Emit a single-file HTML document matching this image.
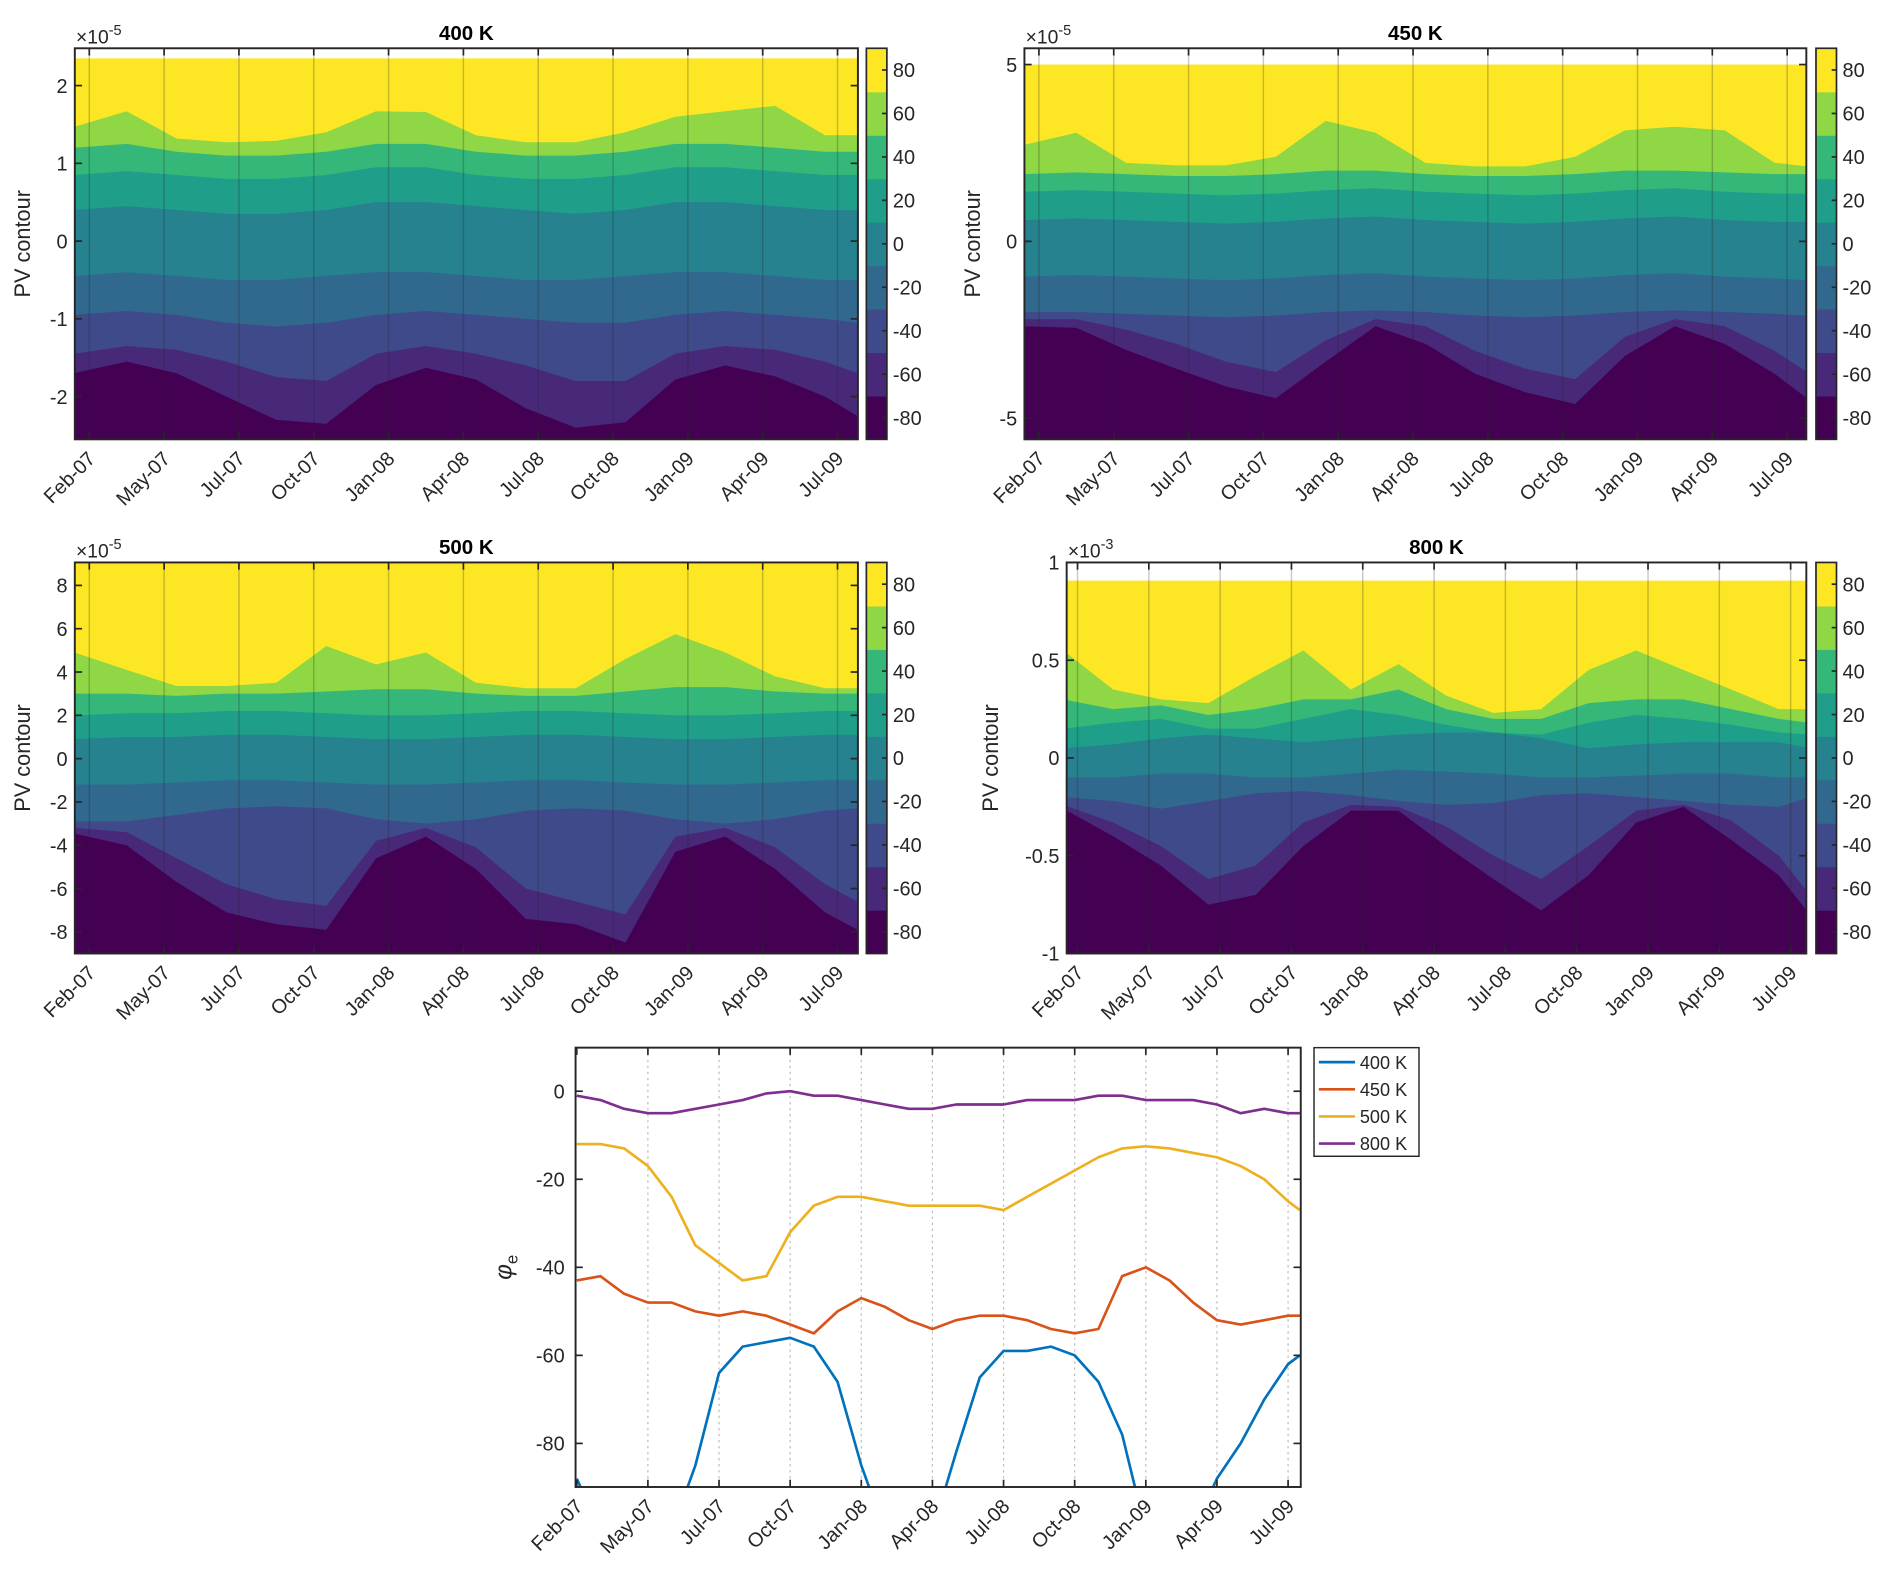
<!DOCTYPE html>
<html><head><meta charset="utf-8">
<style>
html,body{margin:0;padding:0;background:#fff;}
svg{display:block;font-family:"Liberation Sans",sans-serif;}
</style></head>
<body>
<svg id="fig" xmlns="http://www.w3.org/2000/svg" width="1892" height="1592" viewBox="0 0 1568 1319" preserveAspectRatio="none">
<rect x="0" y="0" width="1568" height="1319" fill="#fff"/>
</svg>
<script>
// ---------- DATA ----------
const T = [-0.6,1.5,3.5,5.5,7.5,9.5,11.5,13.5,15.5,17.5,19.5,21.5,23.5,25.5,27.5,29.5,30.8];
const xTickLabels = ['Feb-07','May-07','Jul-07','Oct-07','Jan-08','Apr-08','Jul-08','Oct-08','Jan-09','Apr-09','Jul-09'];
const xTickMonths = [0,3,6,9,12,15,18,21,24,27,30];
const cbTicks = [-80,-60,-40,-20,0,20,40,60,80];
const levels = [-90,-70,-50,-30,-10,10,30,50,70,90];

// 400 K boundaries (levels -70..70)
const p400_m70 = [-1.7,-1.55,-1.7,-2.0,-2.3,-2.35,-1.85,-1.63,-1.78,-2.15,-2.4,-2.33,-1.78,-1.6,-1.74,-2.0,-2.25];
const p400_m50 = [-1.45,-1.35,-1.4,-1.55,-1.75,-1.8,-1.45,-1.35,-1.45,-1.6,-1.8,-1.8,-1.45,-1.35,-1.4,-1.55,-1.7];
const p400_m30 = [-0.95,-0.9,-0.95,-1.05,-1.1,-1.05,-0.95,-0.9,-0.95,-1.0,-1.05,-1.05,-0.95,-0.9,-0.95,-1.0,-1.05];
const p400_m10 = [-0.45,-0.4,-0.45,-0.5,-0.5,-0.45,-0.4,-0.4,-0.45,-0.5,-0.5,-0.45,-0.4,-0.4,-0.45,-0.5,-0.5];
const p400_p10 = [0.4,0.45,0.4,0.35,0.35,0.4,0.5,0.5,0.45,0.4,0.35,0.4,0.5,0.5,0.45,0.4,0.4];
const p400_p30 = [0.85,0.9,0.85,0.8,0.8,0.85,0.95,0.95,0.85,0.8,0.8,0.85,0.95,0.95,0.9,0.85,0.85];
const p400_p50 = [1.2,1.25,1.15,1.1,1.1,1.15,1.25,1.25,1.15,1.1,1.1,1.15,1.25,1.25,1.2,1.15,1.15];
const p400_p70 = [1.47,1.67,1.32,1.27,1.29,1.4,1.67,1.66,1.36,1.27,1.27,1.4,1.6,1.67,1.74,1.36,1.36];

// 450 K
const p450_m70 = [-2.4,-2.45,-3.07,-3.6,-4.1,-4.44,-3.4,-2.4,-2.9,-3.75,-4.27,-4.6,-3.24,-2.4,-2.9,-3.75,-4.44];
const p450_m50 = [-2.2,-2.2,-2.5,-2.9,-3.4,-3.7,-2.8,-2.2,-2.4,-3.1,-3.6,-3.9,-2.7,-2.2,-2.4,-3.1,-3.7];
const p450_m30 = [-2.0,-2.0,-2.05,-2.1,-2.15,-2.1,-2.0,-1.95,-2.0,-2.1,-2.15,-2.1,-2.0,-1.95,-2.0,-2.05,-2.1];
const p450_m10 = [-1.0,-0.95,-1.0,-1.05,-1.1,-1.05,-0.95,-0.9,-1.0,-1.05,-1.1,-1.05,-0.95,-0.9,-1.0,-1.05,-1.1];
const p450_p10 = [0.6,0.65,0.6,0.55,0.5,0.55,0.65,0.7,0.6,0.55,0.5,0.55,0.65,0.7,0.6,0.55,0.55];
const p450_p30 = [1.4,1.45,1.4,1.35,1.3,1.35,1.45,1.5,1.4,1.35,1.3,1.35,1.45,1.5,1.4,1.35,1.35];
const p450_p50 = [1.9,1.95,1.9,1.85,1.85,1.9,2.0,2.0,1.9,1.85,1.85,1.9,2.0,2.0,1.95,1.9,1.9];
const p450_p70 = [2.73,3.07,2.22,2.15,2.15,2.39,3.41,3.07,2.22,2.12,2.12,2.39,3.14,3.24,3.14,2.22,2.12];

// 500 K
const p500_m70 = [-3.46,-4.0,-5.7,-7.1,-7.65,-7.9,-4.6,-3.6,-5.1,-7.4,-7.65,-8.5,-4.3,-3.6,-5.1,-7.1,-7.9];
const p500_m50 = [-3.2,-3.4,-4.6,-5.8,-6.5,-6.8,-3.8,-3.2,-4.1,-6.0,-6.6,-7.2,-3.6,-3.2,-4.1,-5.8,-6.6];
const p500_m30 = [-2.9,-2.9,-2.6,-2.3,-2.2,-2.3,-2.8,-3.0,-2.8,-2.4,-2.3,-2.4,-2.8,-3.0,-2.8,-2.4,-2.3];
const p500_m10 = [-1.2,-1.2,-1.1,-1.0,-1.0,-1.1,-1.2,-1.2,-1.1,-1.0,-1.0,-1.1,-1.2,-1.2,-1.1,-1.0,-1.0];
const p500_p10 = [0.9,1.0,1.0,1.1,1.1,1.0,0.9,0.9,1.0,1.1,1.1,1.0,0.9,0.9,1.0,1.1,1.1];
const p500_p30 = [2.0,2.1,2.1,2.2,2.2,2.1,2.0,2.0,2.1,2.2,2.2,2.1,2.0,2.0,2.1,2.2,2.2];
const p500_p50 = [3.0,3.0,2.9,3.0,3.0,3.1,3.2,3.2,3.0,2.9,2.9,3.1,3.3,3.3,3.1,3.0,3.0];
const p500_p70 = [4.9,4.1,3.35,3.35,3.5,5.2,4.35,4.9,3.5,3.25,3.25,4.6,5.75,4.9,3.8,3.25,3.25];

// 800 K
const p800_m70 = [-0.26,-0.4,-0.55,-0.75,-0.7,-0.45,-0.27,-0.27,-0.45,-0.62,-0.78,-0.6,-0.33,-0.25,-0.42,-0.6,-0.8];
const p800_m50 = [-0.24,-0.33,-0.45,-0.62,-0.55,-0.33,-0.24,-0.25,-0.35,-0.5,-0.62,-0.45,-0.27,-0.24,-0.32,-0.5,-0.7];
const p800_m30 = [-0.2,-0.22,-0.26,-0.22,-0.18,-0.17,-0.19,-0.22,-0.24,-0.23,-0.19,-0.18,-0.2,-0.22,-0.24,-0.25,-0.2];
const p800_m10 = [-0.1,-0.1,-0.08,-0.08,-0.1,-0.1,-0.08,-0.06,-0.07,-0.08,-0.1,-0.1,-0.09,-0.08,-0.08,-0.1,-0.1];
const p800_p10 = [0.05,0.07,0.1,0.12,0.1,0.08,0.1,0.12,0.13,0.13,0.1,0.05,0.07,0.08,0.08,0.08,0.05];
const p800_p30 = [0.15,0.18,0.2,0.15,0.15,0.2,0.25,0.22,0.17,0.13,0.12,0.18,0.22,0.2,0.17,0.13,0.12];
const p800_p50 = [0.3,0.25,0.27,0.22,0.25,0.3,0.3,0.35,0.25,0.2,0.2,0.28,0.3,0.3,0.25,0.2,0.18];
const p800_p70 = [0.55,0.35,0.3,0.28,0.42,0.55,0.35,0.48,0.32,0.23,0.25,0.45,0.55,0.45,0.35,0.25,0.25];

// line chart (phi_e) monthly
const TL = [0,1,2,3,4,5,6,7,8,9,10,11,12,13,14,15,16,17,18,19,20,21,22,23,24,25,26,27,28,29,30,30.5];
const phi400 = [-88,-100,-100,-100,-100,-85,-64,-58,-57,-56,-58,-66,-85,-100,-100,-100,-82,-65,-59,-59,-58,-60,-66,-78,-100,-100,-100,-88,-80,-70,-62,-60];
const phi450 = [-43,-42,-46,-48,-48,-50,-51,-50,-51,-53,-55,-50,-47,-49,-52,-54,-52,-51,-51,-52,-54,-55,-54,-42,-40,-43,-48,-52,-53,-52,-51,-51];
const phi500 = [-12,-12,-13,-17,-24,-35,-39,-43,-42,-32,-26,-24,-24,-25,-26,-26,-26,-26,-27,-24,-21,-18,-15,-13,-12.5,-13,-14,-15,-17,-20,-25,-27];
const phi800 = [-1,-2,-4,-5,-5,-4,-3,-2,-0.5,0,-1,-1,-2,-3,-4,-4,-3,-3,-3,-2,-2,-2,-1,-1,-2,-2,-2,-3,-5,-4,-5,-5];
const yTicksLine = [-80,-60,-40,-20,0];
const seriesNames = ['400 K','450 K','500 K','800 K'];

// ---------- STYLE / LAYOUT ----------
const COLORS = ['#440154','#482878','#3e4a89','#31688e','#26828e','#1f9e89','#35b779','#8fd744','#fde725'];
const NS = 'http://www.w3.org/2000/svg';
const svg = document.getElementById('fig');
function mk(tag, attrs, parent){
  const e = document.createElementNS(NS, tag);
  for (const k in attrs) e.setAttribute(k, attrs[k]);
  (parent||svg).appendChild(e);
  return e;
}
const FS = 16.5;
const panels = [
  {title:'400 K', x0:62, x1:711, y0:40, y1:364, ymin:-2.55, ymax:2.48, top:2.35, yt:[-2,-1,0,1,2], tick0:74, mpx:20.67, exp:'-5', cbx:718, ylx:25,
   B:[p400_m70,p400_m50,p400_m30,p400_m10,p400_p10,p400_p30,p400_p50,p400_p70]},
  {title:'450 K', x0:849, x1:1497, y0:40, y1:364, ymin:-5.6, ymax:5.46, top:5.0, yt:[-5,0,5], tick0:861, mpx:20.67, exp:'-5', cbx:1505, ylx:812,
   B:[p450_m70,p450_m50,p450_m30,p450_m10,p450_p10,p450_p30,p450_p50,p450_p70]},
  {title:'500 K', x0:62, x1:711, y0:466, y1:790, ymin:-9.0, ymax:9.06, top:9.06, yt:[-8,-6,-4,-2,0,2,4,6,8], tick0:74, mpx:20.67, exp:'-5', cbx:718, ylx:25,
   B:[p500_m70,p500_m50,p500_m30,p500_m10,p500_p10,p500_p30,p500_p50,p500_p70]},
  {title:'800 K', x0:884, x1:1497, y0:466, y1:790, ymin:-1, ymax:1, top:0.907, yt:[-1,-0.5,0,0.5,1], tick0:893, mpx:19.7, exp:'-3', cbx:1505, ylx:827,
   B:[p800_m70,p800_m50,p800_m30,p800_m10,p800_p10,p800_p30,p800_p50,p800_p70]}
];

panels.forEach((P, pi) => {
  const g = mk('g', {});
  
  
  const xs = t => P.tick0 + t*P.mpx;
  const ys = v => P.y1 - (v - P.ymin)/(P.ymax - P.ymin)*(P.y1 - P.y0);
  const cid = 'clip' + pi;
  const cp = mk('clipPath', {id:cid}, g);
  mk('rect', {x:P.x0, y:P.y0, width:P.x1-P.x0, height:P.y1-P.y0}, cp);
  const plot = mk('g', {'clip-path':'url(#'+cid+')'}, g);
  
  
  const yr = mk('rect', {x:P.x0, y:ys(P.top), width:P.x1-P.x0, height:P.y1-ys(P.top), fill:COLORS[8]}, plot);
  
  
  for (let k = 7; k >= 0; k--) {
    const arr = P.B[k];
    let d = 'M' + xs(T[0]).toFixed(1) + ',' + P.y1;
    for (let i = 0; i < T.length; i++) d += ' L' + xs(T[i]).toFixed(1) + ',' + ys(arr[i]).toFixed(1);
    d += ' L' + xs(T[T.length-1]).toFixed(1) + ',' + P.y1 + ' Z';
    const p = mk('path', {d:d, fill:COLORS[k]}, plot);
    
    
  }
  xTickMonths.forEach(m => {
    const x = xs(m);
    if (x > P.x0 + 1 && x < P.x1 - 1) {
      const l = mk('line', {x1:x, x2:x, y1:P.y0, y2:P.y1, stroke:'#222', 'stroke-opacity':0.25, 'stroke-width':1.2}, g);
      
      
    }
  });
  const box = mk('rect', {x:P.x0, y:P.y0, width:P.x1-P.x0, height:P.y1-P.y0, fill:'none', stroke:'#262626', 'stroke-width':1.6}, g);
  
  
  xTickMonths.forEach((m, i) => {
    const x = xs(m);
    mk('line', {x1:x, x2:x, y1:P.y1, y2:P.y1-6, stroke:'#262626', 'stroke-width':1.4}, g);
    mk('line', {x1:x, x2:x, y1:P.y0, y2:P.y0+6, stroke:'#262626', 'stroke-width':1.4}, g);
    const lx = x+6, ly = P.y1+17;
    const t = mk('text', {x:lx, y:ly, 'font-size':FS, 'text-anchor':'end', fill:'#262626', transform:'rotate(-45 '+lx+' '+ly+')'}, g);
    t.textContent = xTickLabels[i];
    
    
  });
  P.yt.forEach(v => {
    const y = ys(v);
    mk('line', {x1:P.x0, x2:P.x0+6, y1:y, y2:y, stroke:'#262626', 'stroke-width':1.4}, g);
    mk('line', {x1:P.x1, x2:P.x1-6, y1:y, y2:y, stroke:'#262626', 'stroke-width':1.4}, g);
    const t = mk('text', {x:P.x0-6, y:y+6, 'font-size':FS, 'text-anchor':'end', fill:'#262626'}, g);
    t.textContent = String(v);
    
    
  });
  const ex = mk('text', {x:P.x0+1, y:P.y0-4, 'font-size':16, fill:'#262626'}, g);
  ex.textContent = '×10';
  
  
  const ts = mk('tspan', {dy:-7, 'font-size':12}, ex);
  ts.textContent = P.exp;
  const ti = mk('text', {x:(P.x0+P.x1)/2, y:P.y0-7, 'font-size':17, 'font-weight':'bold', 'text-anchor':'middle', fill:'#000'}, g);
  ti.textContent = P.title;
  
  
  const yl = mk('text', {x:P.ylx, y:(P.y0+P.y1)/2, 'font-size':18, 'text-anchor':'middle', fill:'#262626', transform:'rotate(-90 '+P.ylx+' '+((P.y0+P.y1)/2)+')'}, g);
  yl.textContent = 'PV contour';
  
  
  const cb = mk('g', {}, g);
  
  
  const cbw = 17, bh = (P.y1-P.y0)/9;
  for (let k = 0; k < 9; k++) {
    mk('rect', {x:P.cbx, y:P.y1-(k+1)*bh, width:cbw, height:bh+0.5, fill:COLORS[k]}, cb);
  }
  mk('rect', {x:P.cbx, y:P.y0, width:cbw, height:P.y1-P.y0, fill:'none', stroke:'#262626', 'stroke-width':1.4}, cb);
  cbTicks.forEach(v => {
    const y = P.y1 - (v+90)/180*(P.y1-P.y0);
    mk('line', {x1:P.cbx+cbw-4, x2:P.cbx+cbw, y1:y, y2:y, stroke:'#262626', 'stroke-width':1.4}, cb);
    const t = mk('text', {x:P.cbx+cbw+5, y:y+6, 'font-size':FS, fill:'#262626'}, cb);
    t.textContent = String(v);
    
    
  });
});

// ---------- LINE CHART ----------
(function(){
  const L = {x0:477, x1:1078, y0:868, y1:1232, ymin:-89.9, ymax:9.9, tick0:478, mpx:19.65};
  const xs = t => L.tick0 + t*L.mpx;
  const ys = v => L.y1 - (v - L.ymin)/(L.ymax - L.ymin)*(L.y1 - L.y0);
  const g = mk('g', {});
  
  
  const cp = mk('clipPath', {id:'clipL'}, g);
  mk('rect', {x:L.x0, y:L.y0, width:L.x1-L.x0, height:L.y1-L.y0}, cp);
  xTickMonths.forEach(m => {
    const x = xs(m);
    if (x > L.x0 + 2) {
      const l = mk('line', {x1:x, x2:x, y1:L.y0, y2:L.y1, stroke:'#bdbdbd', 'stroke-dasharray':'2,3', 'stroke-width':1}, g);
      
      
    }
  });
  const series = [phi400, phi450, phi500, phi800];
  const cols = ['#0072bd','#d95319','#edb120','#7e2f8e'];
  const pg = mk('g', {'clip-path':'url(#clipL)'}, g);
  series.forEach((s, si) => {
    let d = '';
    for (let i = 0; i < TL.length; i++) d += (i ? ' L' : 'M') + xs(TL[i]).toFixed(1) + ',' + ys(s[i]).toFixed(1);
    const p = mk('path', {d:d, fill:'none', stroke:cols[si], 'stroke-width':2.2, 'stroke-linejoin':'round'}, pg);
    
    
  });
  const box = mk('rect', {x:L.x0, y:L.y0, width:L.x1-L.x0, height:L.y1-L.y0, fill:'none', stroke:'#262626', 'stroke-width':1.6}, g);
  
  
  xTickMonths.forEach((m, i) => {
    const x = xs(m);
    mk('line', {x1:x, x2:x, y1:L.y1, y2:L.y1-6, stroke:'#262626', 'stroke-width':1.4}, g);
    mk('line', {x1:x, x2:x, y1:L.y0, y2:L.y0+6, stroke:'#262626', 'stroke-width':1.4}, g);
    const lx = x+6, ly = L.y1+17;
    const t = mk('text', {x:lx, y:ly, 'font-size':FS, 'text-anchor':'end', fill:'#262626', transform:'rotate(-45 '+lx+' '+ly+')'}, g);
    t.textContent = xTickLabels[i];
    
    
  });
  yTicksLine.forEach(v => {
    const y = ys(v);
    mk('line', {x1:L.x0, x2:L.x0+6, y1:y, y2:y, stroke:'#262626', 'stroke-width':1.4}, g);
    mk('line', {x1:L.x1, x2:L.x1-6, y1:y, y2:y, stroke:'#262626', 'stroke-width':1.4}, g);
    const t = mk('text', {x:L.x0-9, y:y+6, 'font-size':FS, 'text-anchor':'end', fill:'#262626'}, g);
    t.textContent = String(v);
    
    
  });
  const yl = mk('text', {x:424, y:1050, 'font-size':20, 'font-style':'italic', 'text-anchor':'middle', fill:'#262626', transform:'rotate(-90 424 1050)'}, g);
  yl.textContent = 'φ';
  
  
  const sub = mk('tspan', {dy:5, 'font-size':14, 'font-style':'normal'}, yl);
  sub.textContent = 'e';
  const lg = mk('g', {}, g);
  
  
  mk('rect', {x:1089, y:868, width:87, height:90, fill:'#fff', stroke:'#262626', 'stroke-width':1.2}, lg);
  seriesNames.forEach((n, i) => {
    const y = 880 + i*22.5;
    const e = mk('g', {}, lg);
    
    
    mk('line', {x1:1093, x2:1123, y1:y, y2:y, stroke:cols[i], 'stroke-width':2.2}, e);
    const t = mk('text', {x:1127, y:y+5.5, 'font-size':15, fill:'#262626'}, e);
    t.textContent = n;
  });
})();
</script>
</body></html>
